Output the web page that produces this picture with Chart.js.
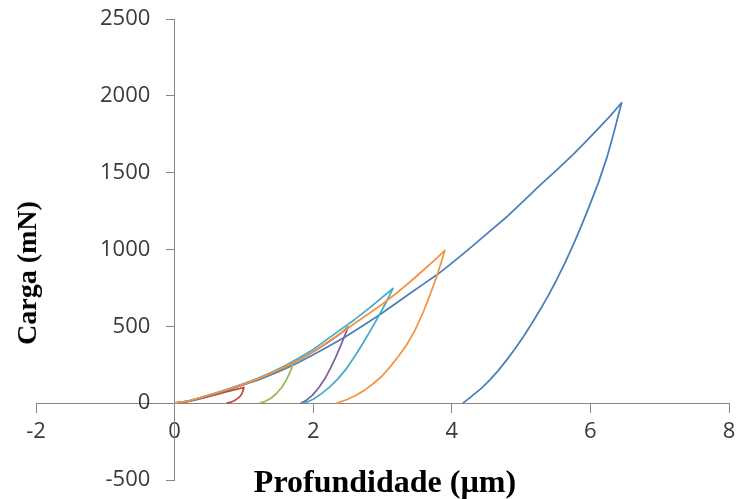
<!DOCTYPE html>
<html>
<head>
<meta charset="utf-8">
<script src="https://cdn.jsdelivr.net/npm/chart.js@4/dist/chart.umd.min.js"></script>
<style>
  html, body { margin: 0; padding: 0; background: #ffffff; overflow: hidden; }
  #wrap { position: relative; width: 739px; height: 499px; }
  canvas { position: absolute; left: 0; top: 0; }
  .ttl { position: absolute; font-family: "Liberation Serif", "Times New Roman", serif; font-weight: bold; color: #000; white-space: nowrap; line-height: 1; }
  #xt { left: 385px; top: 465px; font-size: 32px; transform: translateX(-50%); }
  #yt { left: 27px; top: 273px; font-size: 28px; transform: translate(-50%, -50%) rotate(-90deg); }
</style>
</head>
<body>
<div id="wrap">
  <canvas id="c" width="739" height="499"></canvas>
  <div class="ttl" id="xt">Profundidade (µm)</div>
  <div class="ttl" id="yt">Carga (mN)</div>
</div>
<script>
// Series: depth (µm) and load (mN), loading then unloading branch
const seriesNames = ['2000 mN', '100 mN', '250 mN', '500 mN', '750 mN', '1000 mN'];

const blueX = [0, 0.2, 0.4, 0.6, 0.75, 0.89, 1.05, 1.2, 1.35, 1.5, 1.63, 1.76, 2.0, 2.23, 2.46, 2.71, 2.96, 3.18, 3.4, 3.6, 3.8, 3.96, 4.12, 4.31, 4.55, 4.8, 5.03, 5.27, 5.52, 5.76, 5.93, 6.1, 6.28, 6.45, 6.35, 6.24, 6.12, 6.0, 5.88, 5.76, 5.63, 5.51, 5.39, 5.27, 5.15, 5.03, 4.91, 4.79, 4.67, 4.55, 4.43, 4.31, 4.24, 4.16];
const blueY = [0, 12, 35, 60, 82, 106, 128, 150, 177, 205, 231, 258, 315, 372, 431, 502, 575, 645, 715, 778, 840, 897, 955, 1027, 1120, 1215, 1313, 1417, 1520, 1623, 1700, 1780, 1866, 1955, 1780, 1601, 1440, 1300, 1165, 1038, 910, 800, 698, 605, 515, 431, 352, 280, 212, 152, 98, 54, 28, 0];

const redX = [0, 0.1, 0.2, 0.3, 0.4, 0.5, 0.6, 0.7, 0.8, 0.9, 1.0, 0.99, 0.97, 0.94, 0.9, 0.86, 0.81, 0.75];
const redY = [0, 4, 12, 22, 33, 44, 56, 68, 80, 91, 102, 85, 60, 42, 28, 16, 7, 0];

const greenX = [0, 0.2, 0.4, 0.6, 0.8, 1.0, 1.2, 1.4, 1.6, 1.71, 1.69, 1.66, 1.61, 1.55, 1.47, 1.39, 1.31, 1.23];
const greenY = [0, 13, 38, 64, 92, 122, 156, 193, 233, 258, 230, 195, 150, 105, 63, 32, 12, 0];

const purpleX = [0, 0.2, 0.4, 0.6, 0.8, 1.0, 1.2, 1.4, 1.6, 1.8, 2.0, 2.2, 2.4, 2.505, 2.46, 2.4, 2.33, 2.25, 2.17, 2.08, 1.99, 1.9, 1.82];
const purpleY = [0, 13, 38, 64, 92, 122, 156, 193, 235, 282, 335, 392, 455, 496, 445, 378, 305, 228, 160, 100, 52, 18, 0];

const aquaX = [0, 0.2, 0.4, 0.6, 0.8, 1.0, 1.2, 1.4, 1.6, 1.8, 2.0, 2.2, 2.4, 2.6, 2.8, 3.0, 3.15, 3.05, 2.94, 2.83, 2.72, 2.6, 2.48, 2.36, 2.24, 2.12, 2.0, 1.92, 1.85];
const aquaY = [0, 14, 40, 67, 96, 127, 162, 201, 245, 295, 350, 415, 480, 545, 615, 690, 746, 655, 563, 475, 392, 305, 225, 160, 106, 62, 26, 9, 0];

const orangeX = [0, 0.2, 0.4, 0.6, 0.8, 1.0, 1.2, 1.4, 1.6, 1.8, 2.0, 2.2, 2.4, 2.6, 2.8, 3.0, 3.2, 3.4, 3.6, 3.8, 3.9, 3.84, 3.78, 3.69, 3.59, 3.47, 3.35, 3.23, 3.11, 2.99, 2.87, 2.75, 2.62, 2.48, 2.34];
const orangeY = [0, 14, 40, 66, 94, 124, 158, 196, 238, 283, 335, 395, 455, 520, 582, 645, 715, 790, 870, 950, 995, 905, 821, 710, 595, 475, 380, 305, 236, 175, 128, 88, 52, 22, 0];

const xTicks = [-2, 0, 2, 4, 6, 8];
const yTicks = [-500, 0, 500, 1000, 1500, 2000, 2500];

const seriesX = [blueX, redX, greenX, purpleX, aquaX, orangeX];
const seriesY = [blueY, redY, greenY, purpleY, aquaY, orangeY];
const colors = ['#4A7EBB', '#BE4B48', '#98B954', '#7D60A0', '#46AAC5', '#F59341'];

const datasets = seriesNames.map((name, i) => ({
  label: name,
  data: seriesX[i].map((x, j) => ({ x: x, y: seriesY[i][j] })),
  showLine: true,
  borderColor: colors[i],
  backgroundColor: colors[i],
  borderWidth: 1.75,
  borderJoinStyle: 'round',
  pointRadius: 0,
  pointHoverRadius: 0,
  tension: 0,
  fill: false,
  order: seriesNames.length - i
}));

const tickFont = { family: '"Open Sans", "Noto Sans", sans-serif', size: 22 };
const axisColor = '#868686';
const labelColor = '#3a3a3a';
// y tick labels sit slightly left of the x = 0 axis line
const yLabelAnchor = -0.35;
const noPad = (s) => { s.paddingLeft = 0; s.paddingRight = 0; s.paddingTop = 0; s.paddingBottom = 0; };

new Chart(document.getElementById('c'), {
  type: 'scatter',
  data: { datasets: datasets },
  options: {
    responsive: false,
    animation: false,
    devicePixelRatio: 1,
    layout: { padding: { left: 36, right: 10, top: 19, bottom: 19 } },
    plugins: { legend: { display: false }, tooltip: { enabled: false }, title: { display: false } },
    scales: {
      x: {
        type: 'linear',
        position: { y: 0 },
        min: xTicks[0],
        max: xTicks[xTicks.length - 1],
        afterBuildTicks: (s) => { s.ticks = xTicks.map(v => ({ value: v })); },
        afterFit: noPad,
        ticks: { font: tickFont, color: labelColor, padding: 6, maxRotation: 0, autoSkip: false, callback: (v) => String(v) },
        grid: { drawOnChartArea: false, drawTicks: true, tickLength: 9, color: axisColor, lineWidth: 1 },
        border: { display: true, color: axisColor, width: 1 }
      },
      y: {
        type: 'linear',
        position: { x: 0 },
        min: yTicks[0],
        max: yTicks[yTicks.length - 1],
        afterBuildTicks: (s) => { s.ticks = yTicks.map(v => ({ value: v })); },
        afterFit: noPad,
        ticks: { display: false },
        grid: { drawOnChartArea: false, drawTicks: true, tickLength: 8, color: axisColor, lineWidth: 1 },
        border: { display: true, color: axisColor, width: 1 }
      },
      yLabels: {
        axis: 'y',
        type: 'linear',
        position: { x: yLabelAnchor },
        min: yTicks[0],
        max: yTicks[yTicks.length - 1],
        afterBuildTicks: (s) => { s.ticks = yTicks.map(v => ({ value: v })); },
        afterFit: noPad,
        ticks: { font: tickFont, color: labelColor, autoSkip: false, callback: (v) => String(v) },
        grid: { display: false },
        border: { display: false }
      }
    }
  }
});
</script>
</body>
</html>
